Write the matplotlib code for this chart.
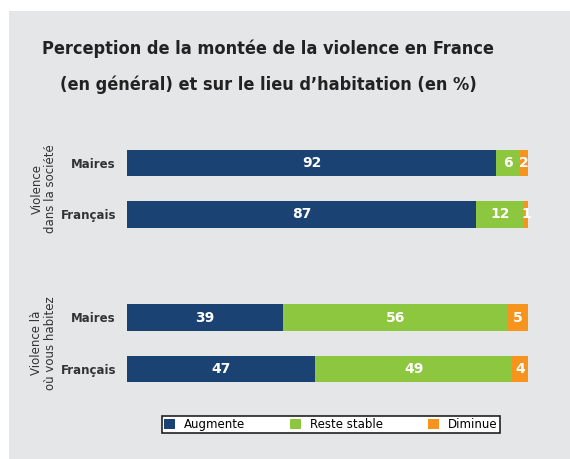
import matplotlib
matplotlib.use("Agg")
import matplotlib.pyplot as plt
import numpy as np
from matplotlib.patches import Rectangle, Patch

categories = ["Maires", "Français", "Maires", "Français"]
groups = ["Violence\ndans la société", "Violence là\noù vous habitez"]
series_names = ["Augmente", "Reste stable", "Diminue"]
augmente = [92, 87, 39, 47]
stable = [6, 12, 56, 49]
diminue = [2, 1, 5, 4]

colors = ["#1a4273", "#8dc63f", "#f7941d"]
panel_color = "#e5e6e8"

plt.rcParams["font.family"] = ["DejaVu Sans"]

fig = plt.figure(figsize=(5.7, 4.59), dpi=100)
fig.patch.set_facecolor("white")
fig.patches.append(
    Rectangle((8.5 / 570, 0), 1, 1 - 10.5 / 459, transform=fig.transFigure,
              facecolor=panel_color, edgecolor="none", zorder=-10)
)

ax = fig.add_axes([127 / 570, 1 - 420.5 / 459, 401 / 570, 309 / 459])
ax.set_facecolor("none")

ypos = np.array([0, 1, 3, 4])
bar_h = 0.505
left = np.zeros(len(ypos))
for vals, col in zip([augmente, stable, diminue], colors):
    vals = np.array(vals)
    ax.barh(ypos, vals, left=left, height=bar_h, color=col, edgecolor="none")
    for y, l, v in zip(ypos, left, vals):
        ax.text(l + v / 2, y, str(v), ha="center", va="center",
                color="white", fontsize=10, fontweight="bold")
    left = left + vals

ax.set_xlim(0, 100)
ax.set_ylim(5, -1)
ax.set_yticks(ypos)
ax.set_yticklabels(categories, fontsize=8.5, fontweight="bold", color="#333333")
ax.set_xticks([])
ax.tick_params(axis="y", length=0, pad=8)
for s in ax.spines.values():
    s.set_visible(False)

# titre sur deux lignes
fig.text(268 / 570, 1 - 66.5 / 459,
         "Perception de la montée de la violence en France\n"
         "(en général) et sur le lieu d\u2019habitation (en %)",
         ha="center", va="center", fontsize=13, fontweight="bold",
         fontstretch="condensed", color="#222222", linespacing=2.2)

fig.text(44 / 570, 1 - 189 / 459, groups[0], rotation=90, ha="center",
         va="center", fontsize=8.5, color="#333333", multialignment="center",
         linespacing=1.1)
fig.text(44 / 570, 1 - 343 / 459, groups[1], rotation=90, ha="center",
         va="center", fontsize=8.5, color="#333333", multialignment="center",
         linespacing=1.1)

handles = [Patch(facecolor=c, edgecolor="none") for c in colors]
leg = fig.legend(handles, series_names, loc="center",
                 bbox_to_anchor=(331 / 570, 1 - 424.5 / 459), ncol=3,
                 frameon=True, fancybox=False, fontsize=8.5, framealpha=1,
                 handlelength=0.9, handleheight=0.9, handletextpad=0.8,
                 columnspacing=3.8, borderpad=0.15, borderaxespad=0)
leg.get_frame().set_edgecolor("#222222")
leg.get_frame().set_linewidth(1.2)
leg.get_frame().set_facecolor("white")

fig.savefig("out.png", dpi=100)
